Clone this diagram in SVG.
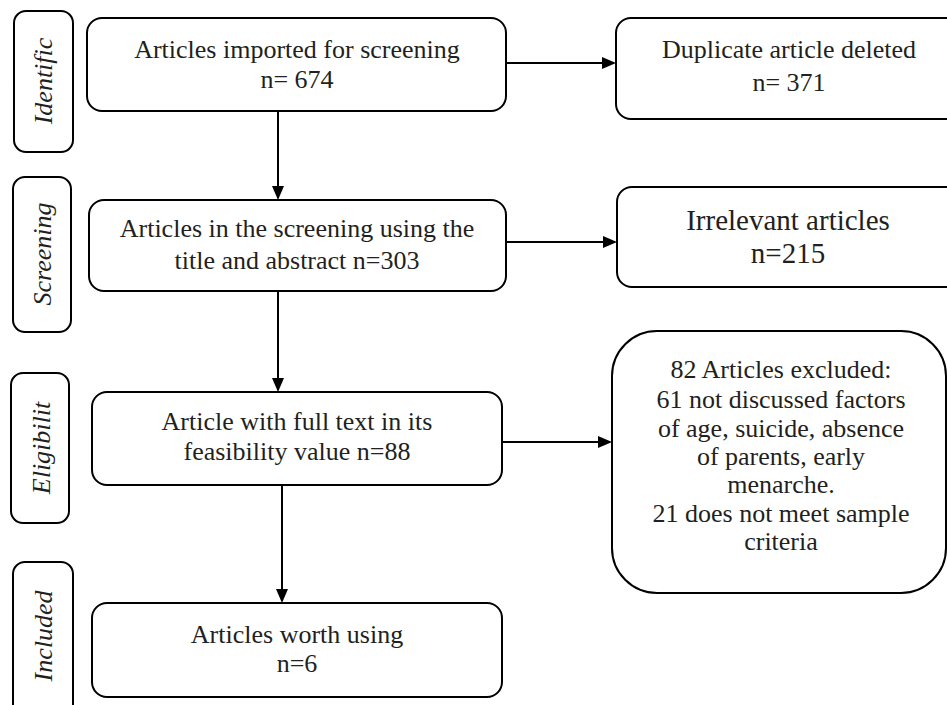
<svg xmlns="http://www.w3.org/2000/svg" width="947" height="705" viewBox="0 0 947 705">
<style>
.box{fill:#fff;stroke:#000;stroke-width:2}
.t{font-family:"Liberation Serif","Times New Roman",serif;font-size:26px;fill:#231f20;text-anchor:middle}
.side{font-family:"Liberation Serif","Times New Roman",serif;font-size:26px;font-style:italic;fill:#231f20;text-anchor:middle}
.c{stroke:#000;stroke-width:2;fill:none;marker-end:url(#ah)}
</style>
<defs>
<marker id="ah" viewBox="0 0 14 12" refX="12" refY="6" markerWidth="14" markerHeight="12" markerUnits="userSpaceOnUse" orient="auto">
<path d="M0,0 L14,6 L0,12 z" fill="#000"/>
</marker>
</defs>
<rect width="947" height="705" fill="#fff"/>
<g id="connectors">
<line class="c" x1="278" y1="111" x2="278" y2="198"/>
<line class="c" x1="278" y1="291" x2="278" y2="390"/>
<line class="c" x1="282" y1="485" x2="282" y2="601"/>
<line class="c" x1="506" y1="63" x2="614" y2="63"/>
<line class="c" x1="506" y1="242" x2="615" y2="242"/>
<line class="c" x1="502" y1="442" x2="610" y2="442"/>
</g>
<g id="stage-identification">
<rect class="box" x="14" y="11" width="59" height="141" rx="12"/>
<text class="side" transform="translate(52,81) rotate(-90)">Identific</text>
</g>
<g id="stage-screening">
<rect class="box" x="13" y="177" width="58" height="155" rx="12"/>
<text class="side" transform="translate(51,254) rotate(-90)">Screening</text>
</g>
<g id="stage-eligibility">
<rect class="box" x="11" y="373" width="58" height="150" rx="12"/>
<text class="side" transform="translate(50,448) rotate(-90)">Eligibilit</text>
</g>
<g id="stage-included">
<rect class="box" x="13" y="562" width="60" height="155" rx="12"/>
<text class="side" transform="translate(52,636) rotate(-90)">Included</text>
</g>
<g id="imported">
<rect class="box" x="87" y="18" width="419" height="93" rx="15"/>
<text class="t" x="297" y="58">Articles imported for screening</text>
<text class="t" x="297" y="88">n= 674</text>
</g>
<g id="screened">
<rect class="box" x="89" y="200" width="417" height="91" rx="15"/>
<text class="t" x="297" y="237">Articles in the screening using the</text>
<text class="t" x="297" y="269">title and abstract n=303</text>
</g>
<g id="fulltext">
<rect class="box" x="92" y="392" width="410" height="93" rx="15"/>
<text class="t" x="297" y="430">Article with full text in its</text>
<text class="t" x="297" y="460">feasibility value n=88</text>
</g>
<g id="included">
<rect class="box" x="92" y="603" width="410" height="94" rx="15"/>
<text class="t" x="297" y="643">Articles worth using</text>
<text class="t" x="297" y="672">n=6</text>
</g>
<g id="duplicates">
<rect class="box" x="616" y="18" width="345" height="101" rx="15"/>
<text class="t" x="789" y="58">Duplicate article deleted</text>
<text class="t" x="789" y="91">n= 371</text>
</g>
<g id="irrelevant">
<rect class="box" x="617" y="187" width="345" height="100" rx="15"/>
<text class="t" x="788" y="230" style="font-size:29px">Irrelevant articles</text>
<text class="t" x="788" y="263" style="font-size:29px">n=215</text>
</g>
<g id="excluded">
<rect class="box" x="612" y="331" width="334" height="262" rx="45"/>
<text class="t" x="781" y="378">82 Articles excluded:</text>
<text class="t" x="781" y="408">61 not discussed factors</text>
<text class="t" x="781" y="437">of age, suicide, absence</text>
<text class="t" x="781" y="465">of parents, early</text>
<text class="t" x="781" y="493">menarche.</text>
<text class="t" x="781" y="522">21 does not meet sample</text>
<text class="t" x="781" y="550">criteria</text>
</g>
</svg>
